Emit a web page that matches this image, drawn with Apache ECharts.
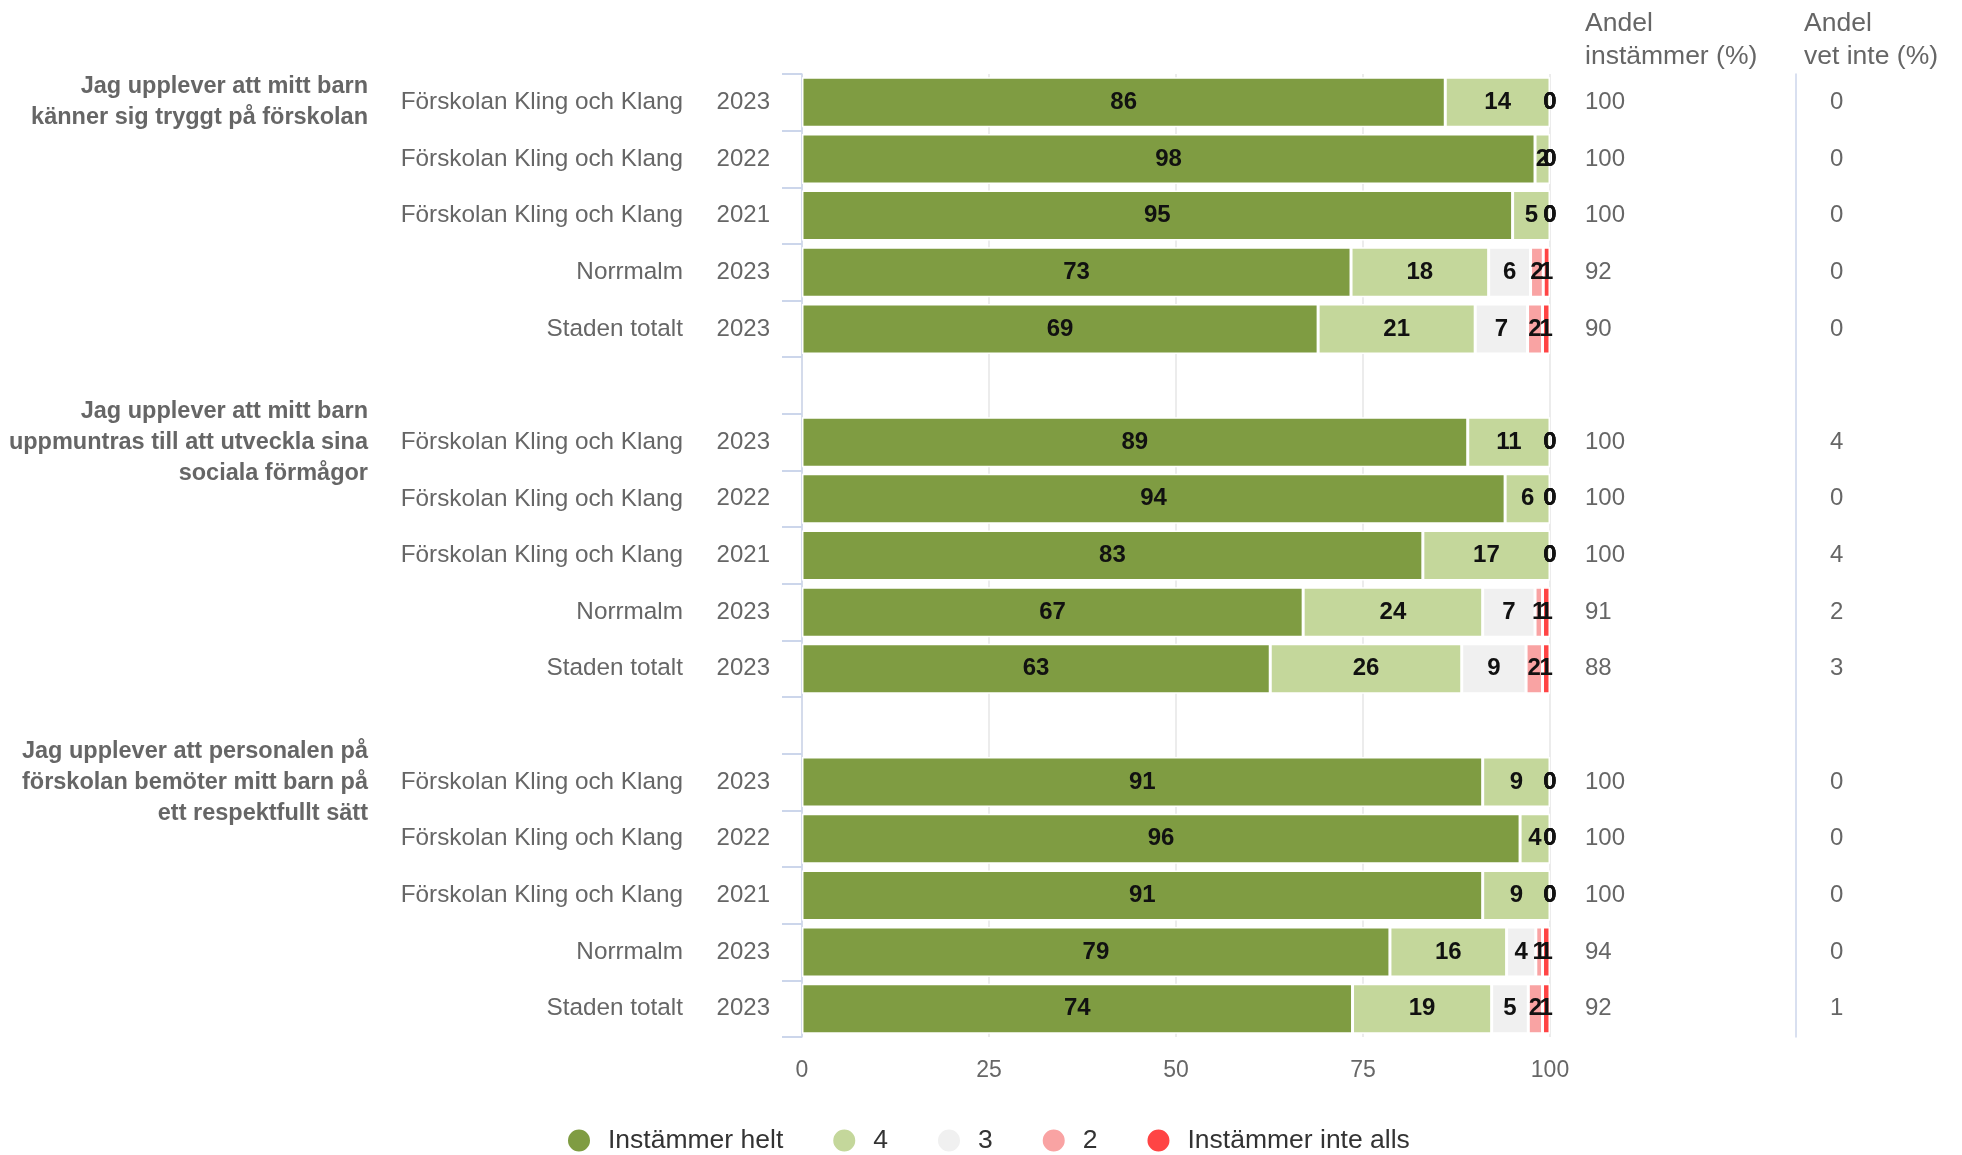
<!DOCTYPE html>
<html><head><meta charset="utf-8">
<script src="https://cdn.jsdelivr.net/npm/echarts@6/dist/echarts.min.js"></script>
<style>html,body{margin:0;padding:0;background:#fff}#c{width:1962px;height:1155px}</style>
</head><body><div id="c"></div>
<script>
const questions = [
  "Jag upplever att mitt barn\nkänner sig tryggt på förskolan",
  "Jag upplever att mitt barn\nuppmuntras till att utveckla sina\nsociala förmågor",
  "Jag upplever att personalen på\nförskolan bemöter mitt barn på\nett respektfullt sätt"
];
const units = ["Förskolan Kling och Klang","Förskolan Kling och Klang","Förskolan Kling och Klang","Norrmalm","Staden totalt"];
const years = ["2023","2022","2021","2023","2023"];
const seriesNames = ["Instämmer helt","4","3","2","Instämmer inte alls"];
// values per row (3 questions x 5 units)
const helt     = [86,98,95,73.4,69,  89,94,83,67,62.6,  91,96,91,78.6,73.6];
const fyra     = [14,2,5,18.4,21,    11,6,17,24,25.6,   9,4,9,15.6,18.6];
const tre      = [0,0,0,5.6,7,       0,0,0,7,8.6,       0,0,0,3.9,4.9];
const tva      = [0,0,0,1.7,2,       0,0,0,1,2.2,       0,0,0,0.9,1.9];
const inteAlls = [0,0,0,0.9,1,       0,0,0,1,1,         0,0,0,1,1];
const andelInstammer = [100,100,100,92,90, 100,100,100,91,88, 100,100,100,94,92];
const andelVetInte   = [0,0,0,0,0,         4,0,4,2,3,         0,0,0,0,1];
const xTicks = [0,25,50,75,100];
const colors = ["#7f9c42","#c4d79b","#f0f0f0","#f9a3a3","#ff4444"];
const FONT = "'Liberation Sans', Arial, sans-serif";

const yearLbl=[], unitLbl=[], qLbl=[], instLbl=[], vetLbl=[];
const sData=[[],[],[],[],[]];
const srcArr=[helt,fyra,tre,tva,inteAlls];
questions.forEach((q,g)=>{
  for(let i=0;i<units.length;i++){
    const k=g*units.length+i;
    yearLbl.push(years[i]); unitLbl.push(units[i]); qLbl.push(i===0?q:'');
    instLbl.push(String(andelInstammer[k])); vetLbl.push(String(andelVetInte[k]));
    srcArr.forEach((a,s)=>sData[s].push(a[k]===0
      ? {value:0, itemStyle:{borderWidth:0}, label:{offset:[-3,4]}}
      : a[k]));
  }
  if(g<questions.length-1){
    yearLbl.push(''); unitLbl.push(''); qLbl.push(''); instLbl.push(''); vetLbl.push('');
    sData.forEach(d=>d.push('-'));
  }
});

const baseCat = (data, extra) => Object.assign({
  type:'category', data:data, inverse:true, gridIndex:0,
  axisLine:{show:false}, axisTick:{show:false}, splitLine:{show:false}
}, extra);

const chart = echarts.init(document.getElementById('c'), null, {renderer:'canvas'});
chart.setOption({
  animation:false,
  backgroundColor:'#fff',
  textStyle:{fontFamily:FONT},
  title:[
    {text:'Andel\ninstämmer (%)', left:1585, top:7, padding:0,
     textStyle:{fontSize:26.5, fontWeight:'normal', color:'#666', lineHeight:33, fontFamily:FONT}},
    {text:'Andel\nvet inte (%)', left:1804, top:7, padding:0,
     textStyle:{fontSize:26.5, fontWeight:'normal', color:'#666', lineHeight:33, fontFamily:FONT}}
  ],
  legend:{
    data:seriesNames, icon:'circle', left:561, top:1122, itemWidth:24, itemHeight:24, itemGap:48,
    textStyle:{fontSize:26.5, color:'#333', fontFamily:FONT, padding:[0,0,0,12]}
  },
  grid:{left:802, right:412, top:74, bottom:118, containLabel:false, outerBoundsMode:'none'},
  xAxis:{
    type:'value', min:xTicks[0], max:xTicks[xTicks.length-1], interval:25,
    axisLine:{show:false}, axisTick:{show:false},
    splitLine:{show:true, lineStyle:{color:'#e6e6e6', width:1.5}},
    axisLabel:{color:'#666', fontSize:23, margin:22, fontFamily:FONT,
      formatter:v=>xTicks.includes(v)?String(v):''}
  },
  yAxis:[
    baseCat(yearLbl, {position:'left', offset:0,
      axisLine:{show:true, lineStyle:{color:'#ccd6eb', width:1.5}},
      axisTick:{show:true, interval:0, length:20, lineStyle:{color:'#ccd6eb', width:2}},
      axisLabel:{interval:0, color:'#666', fontSize:24, margin:32, fontFamily:FONT}}),
    baseCat(unitLbl, {position:'left', offset:0,
      axisLabel:{interval:0, color:'#666', fontSize:24.3, margin:119, fontFamily:FONT}}),
    baseCat(qLbl, {position:'left', offset:0,
      axisLabel:{interval:0, color:'#666', fontSize:23.5, fontWeight:'bold', lineHeight:31, margin:434, align:'right', fontFamily:FONT}}),
    baseCat(instLbl, {position:'right', offset:0,
      axisLabel:{interval:0, color:'#666', fontSize:24, margin:35, align:'left', fontFamily:FONT}}),
    baseCat(vetLbl, {position:'right', offset:246,
      axisLine:{show:true, lineStyle:{color:'#ccd6eb', width:1.5}},
      axisLabel:{interval:0, color:'#666', fontSize:24, margin:34, align:'left', fontFamily:FONT}})
  ],
  series: seriesNames.map((n,i)=>({
    name:n, type:'bar', stack:'total', xAxisIndex:0, yAxisIndex:0,
    data:sData[i], barWidth:50,
    itemStyle:{color:colors[i], borderColor:'#fff', borderWidth:1.5},
    label:{show:true, position:'inside', formatter:p=>String(Math.round(p.value)),
      fontSize:24, fontWeight:'bold', color:'#111', textBorderWidth:0, textBorderColor:'transparent', fontFamily:FONT, offset:[0,4]},
    labelLayout:{hideOverlap:false},
    emphasis:{disabled:true}
  }))
});
</script>
</body></html>
